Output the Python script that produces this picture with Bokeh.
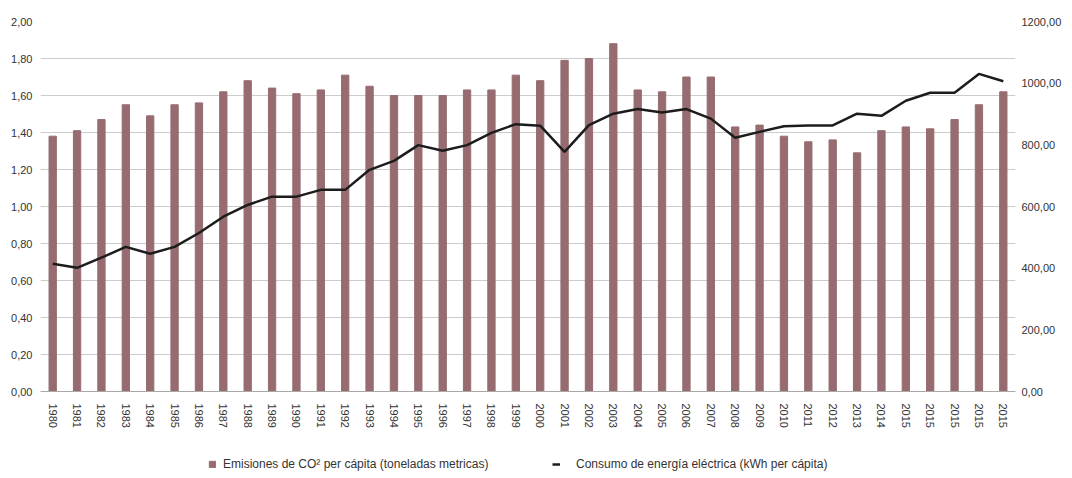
from bokeh.plotting import figure
from bokeh.layouts import column
from bokeh.models import (Range1d, LinearAxis, FixedTicker, CustomJSTickFormatter,
                          Legend, LegendItem, ColumnDataSource)
from bokeh.embed import file_html
from bokeh.resources import INLINE

# ---- data ----
years = ["1980", "1981", "1982", "1983", "1984", "1985", "1986", "1987", "1988", "1989",
         "1990", "1991", "1992", "1993", "1994", "1995", "1996", "1997", "1998", "1999",
         "2000", "2001", "2002", "2003", "2004", "2005", "2006", "2007", "2008", "2009",
         "2010", "2011", "2012", "2013", "2014", "2015", "2015", "2015", "2015", "2015"]

co2_per_capita = [1.38, 1.41, 1.47, 1.55, 1.49, 1.55, 1.56, 1.62, 1.68, 1.64,
                  1.61, 1.63, 1.71, 1.65, 1.60, 1.60, 1.60, 1.63, 1.63, 1.71,
                  1.68, 1.79, 1.80, 1.88, 1.63, 1.62, 1.70, 1.70, 1.43, 1.44,
                  1.38, 1.35, 1.36, 1.29, 1.41, 1.43, 1.42, 1.47, 1.55, 1.62]

kwh_per_capita = [414, 401, 434, 469, 447, 469, 514, 567, 605, 632,
                  632, 654, 654, 719, 748, 799, 781, 799, 839, 867,
                  862, 777, 864, 901, 916, 905, 916, 885, 823, 842,
                  860, 863, 863, 901, 894, 943, 969, 969, 1030, 1006]

left_ticks = [0.0, 0.2, 0.4, 0.6, 0.8, 1.0, 1.2, 1.4, 1.6, 1.8, 2.0]
right_ticks = [0, 200, 400, 600, 800, 1000, 1200]

label_co2 = "Emisiones de CO\u00b2 per cápita (toneladas metricas)"
label_kwh = "Consumo de energía eléctrica (kWh per cápita)"

BAR_COLOR = "#976c71"
LINE_COLOR = "#1c1c1c"
TEXT_COLOR = "#333333"
FONT = "Liberation Sans"
W = 1064

x = list(range(len(years)))
src = ColumnDataSource(dict(x=x, co2=co2_per_capita, kwh=kwh_per_capita))

p = figure(width=W, height=441, output_backend="svg", toolbar_location=None,
           x_range=Range1d(-0.5, len(years) - 0.5), y_range=Range1d(0, 2.0),
           min_border_left=40, min_border_right=44, min_border_top=21,
           min_border_bottom=50)
p.outline_line_color = None
p.background_fill_color = "white"
p.border_fill_color = "white"

p.extra_y_ranges = {"kwh": Range1d(0, 1200)}

bars = p.vbar(x="x", top="co2", width=0.3, color=BAR_COLOR, source=src)
line = p.line(x="x", y="kwh", line_color=LINE_COLOR, line_width=2.5,
              y_range_name="kwh", source=src)

fmt = CustomJSTickFormatter(code="return tick.toFixed(2).replace('.', ',');")


def style_axis(ax, standoff):
    ax.axis_line_color = None
    ax.major_tick_line_color = None
    ax.minor_tick_line_color = None
    ax.major_tick_out = 0
    ax.major_tick_in = 0
    ax.minor_tick_out = 0
    ax.minor_tick_in = 0
    ax.major_label_standoff = standoff
    ax.major_label_text_font = FONT
    ax.major_label_text_font_size = "11px"
    ax.major_label_text_color = TEXT_COLOR


# left axis
ya = p.yaxis[0]
ya.ticker = FixedTicker(ticks=left_ticks)
ya.formatter = fmt
style_axis(ya, 8)

# right axis
ra = LinearAxis(y_range_name="kwh", ticker=FixedTicker(ticks=right_ticks), formatter=fmt)
style_axis(ra, 6)
p.add_layout(ra, "right")

# bottom axis
xa = p.xaxis[0]
xa.ticker = FixedTicker(ticks=x)
xa.major_label_overrides = {i: y for i, y in enumerate(years)}
xa.major_label_orientation = "vertical"
style_axis(xa, 12)
xa.axis_line_color = "#a8a8a8"

p.xgrid.grid_line_color = None
p.ygrid.grid_line_color = "#cccccc"
p.ygrid.grid_line_width = 1

# ---- legend strip below the chart ----
q = figure(width=W, height=30, output_backend="svg", toolbar_location=None,
           x_axis_type=None, y_axis_type=None,
           x_range=Range1d(-0.5, len(years) - 0.5), y_range=Range1d(0, 2.0),
           min_border_left=0, min_border_right=0, min_border_top=0, min_border_bottom=0)
q.outline_line_color = None
q.grid.visible = False
q.border_fill_color = "white"
q.background_fill_color = "white"

# hidden copies of the two series, used only for the legend swatches
lg_bar = q.vbar(x="x", top="co2", width=0.3, color=BAR_COLOR, source=src, visible=False)
lg_line = q.line(x="x", y="kwh", line_color=LINE_COLOR, line_width=2.5, source=src,
                 visible=False)

common = dict(orientation="horizontal", padding=0, margin=0,
              glyph_width=8, glyph_height=8, label_height=10,
              label_text_font=FONT, label_text_font_size="12px",
              label_text_color=TEXT_COLOR,
              background_fill_alpha=0, border_line_color=None)

leg1 = Legend(items=[LegendItem(label=label_co2, renderers=[lg_bar])],
              location=(168, 0), label_standoff=7, **common)
leg2 = Legend(items=[LegendItem(label=label_kwh, renderers=[lg_line])],
              location=(512, 0), label_standoff=16, **common)
q.add_layout(leg1, "center")
q.add_layout(leg2, "center")

open("out.html", "w").write(file_html(column(p, q), INLINE))
